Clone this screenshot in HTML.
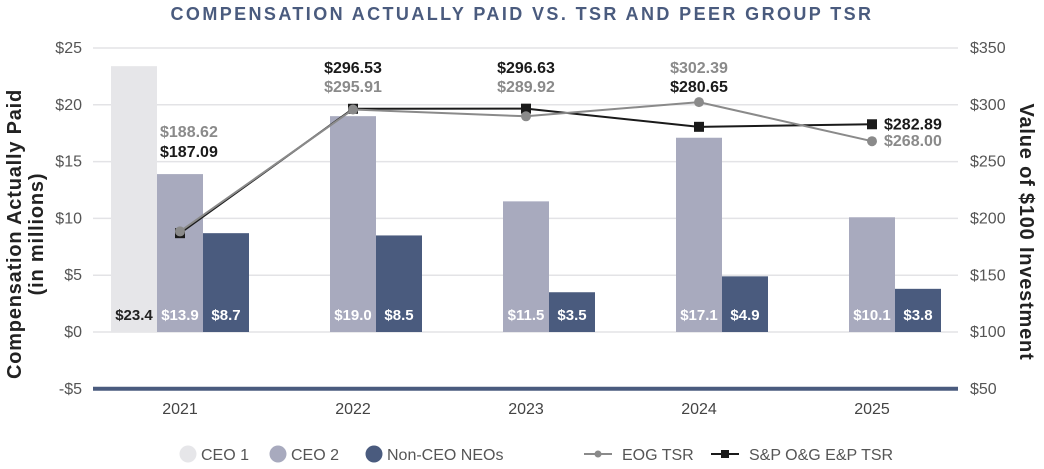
<!DOCTYPE html>
<html><head><meta charset="utf-8"><style>
body{margin:0;background:#fff;width:1044px;height:469px;overflow:hidden;font-family:"Liberation Sans",sans-serif}
svg{display:block}
</style></head><body>
<svg id="chart" width="1044" height="469" xmlns="http://www.w3.org/2000/svg">
<text x="522" y="20" text-anchor="middle" font-size="18" font-weight="bold" fill="#4a5b7e" letter-spacing="2.4">COMPENSATION ACTUALLY PAID VS. TSR AND PEER GROUP TSR</text>
<g id="grid"></g><g id="bars"></g><g id="lines"></g><g id="labels"></g>
<text transform="translate(21,234) rotate(-90)" text-anchor="middle" font-size="20" font-weight="bold" fill="#222" letter-spacing="0.8">Compensation Actually Paid</text>
<text transform="translate(43,234) rotate(-90)" text-anchor="middle" font-size="20" font-weight="bold" fill="#222" letter-spacing="0.8">(in millions)</text>
<text transform="translate(1020,232) rotate(90)" text-anchor="middle" font-size="20" font-weight="bold" fill="#222" letter-spacing="0.8">Value of $100 Investment</text>
<g id="legend"></g>
</svg>
<script>
const years=["2021","2022","2023","2024","2025"];
const ceo1=[23.4,null,null,null,null];
const ceo2=[13.9,19.0,11.5,17.1,10.1];
const neo=[8.7,8.5,3.5,4.9,3.8];
const eogTsr=[188.62,295.91,289.92,302.39,268.00];
const spTsr=[187.09,296.53,296.63,280.65,282.89];
const leftTicks=[-5,0,5,10,15,20,25];
const rightTicks=[50,100,150,200,250,300,350];
const NS="http://www.w3.org/2000/svg";
const yL=v=>332-v*11.36;
const yR=v=>389-(v-50)*1.1367;
const xC=i=>180+i*173;
const BW=46;
function mk(tag,attrs,parent,txt){const e=document.createElementNS(NS,tag);for(const k in attrs)e.setAttribute(k,attrs[k]);if(txt!==undefined)e.textContent=txt;document.getElementById(parent).appendChild(e);return e;}
leftTicks.forEach((t,i)=>{
 const y=yL(t);
 if(t!==-5){const g=mk('line',{x1:93,x2:958,y1:y,y2:y,stroke:'#e3e3e6','stroke-width':1.5},'grid');}
 const l=mk('text',{x:82,y:y+5,'text-anchor':'end','font-size':16,fill:'#555'},'grid',(t<0?'-$':'$')+Math.abs(t));
 
});
rightTicks.forEach(t=>{
 const l=mk('text',{x:970,y:yR(t)+5,'font-size':16,fill:'#555'},'grid','$'+t);
 
});
const ax=mk('line',{x1:93,x2:958,y1:yL(-5),y2:yL(-5),stroke:'#4a5b7e','stroke-width':4},'grid');

years.forEach((y,i)=>{const t=mk('text',{x:xC(i),y:414,'text-anchor':'middle','font-size':16,fill:'#444'},'grid',y);
});
const series=[[ceo1,'#e6e6e9',-69,'#222','ceo1-bar'],[ceo2,'#a8aabe',-23,'#fff','ceo2-bar'],[neo,'#4a5b7e',23,'#fff','neo-bar']];
years.forEach((yr,i)=>{series.forEach(([arr,col,off,tc,nm])=>{const v=arr[i];if(v==null)return;
 const x=xC(i)+off;const r=mk('rect',{x:x,y:yL(v),width:BW,height:yL(0)-yL(v),fill:col},'bars');
 
 const t=mk('text',{x:x+BW/2,y:320,'text-anchor':'middle','font-size':15,'font-weight':'bold',fill:tc},'labels','$'+v.toFixed(1));
 });});
function line(arr,col,nm,sq){
 const p=mk('polyline',{points:arr.map((v,i)=>xC(i)+','+yR(v)).join(' '),fill:'none',stroke:col,'stroke-width':2},'lines');
 
 arr.forEach((v,i)=>{const m=sq?mk('rect',{x:xC(i)-5,y:yR(v)-5,width:10,height:10,fill:col},'lines'):mk('circle',{cx:xC(i),cy:yR(v),r:5,fill:col},'lines');
 });
}
line(spTsr,'#1a1a1a','sp-tsr',true);
line(eogTsr,'#8a8a8a','eog-tsr',false);
const lab=(x,y,v,col,anchor)=>{const t=mk('text',{x:x,y:y,'text-anchor':anchor,'font-size':16,'font-weight':'bold',fill:col},'labels','$'+v.toFixed(2));
 };
lab(160,137,eogTsr[0],'#8a8a8a','start');lab(160,157,spTsr[0],'#1a1a1a','start');
[1,2].forEach(i=>{lab(xC(i),73,spTsr[i],'#1a1a1a','middle');lab(xC(i),92,eogTsr[i],'#8a8a8a','middle');});
lab(xC(3),73,eogTsr[3],'#8a8a8a','middle');lab(xC(3),92,spTsr[3],'#1a1a1a','middle');
lab(884,yR(spTsr[4])+5,spTsr[4],'#1a1a1a','start');lab(884,yR(eogTsr[4])+5,eogTsr[4],'#8a8a8a','start');
const L=[['CEO 1','#e6e6e9',180,'c'],['CEO 2','#a8aabe',270,'c'],['Non-CEO NEOs','#4a5b7e',366,'c'],['EOG TSR','#8a8a8a',584,'l'],['S&P O&G E&P TSR','#1a1a1a',711,'s']];
L.forEach(([n,c,x,k])=>{
 const g=mk('g',{},'legend');
 let tx;
 if(k==='c'){const e=document.createElementNS(NS,'circle');e.setAttribute('cx',x+8);e.setAttribute('cy',454);e.setAttribute('r',8.5);e.setAttribute('fill',c);g.appendChild(e);tx=x+21;}
 else{const l=document.createElementNS(NS,'line');l.setAttribute('x1',x);l.setAttribute('x2',x+28);l.setAttribute('y1',454);l.setAttribute('y2',454);l.setAttribute('stroke',c);l.setAttribute('stroke-width',2);g.appendChild(l);
  const m=document.createElementNS(NS,k==='l'?'circle':'rect');
  if(k==='l'){m.setAttribute('cx',x+14);m.setAttribute('cy',454);m.setAttribute('r',3.5);}else{m.setAttribute('x',x+10);m.setAttribute('y',450);m.setAttribute('width',8);m.setAttribute('height',8);}
  m.setAttribute('fill',c);g.appendChild(m);tx=x+38;}
 const t=document.createElementNS(NS,'text');t.setAttribute('x',tx);t.setAttribute('y',460);t.setAttribute('font-size',16);t.setAttribute('fill','#555');t.textContent=n;g.appendChild(t);
});
</script>
</body></html>
